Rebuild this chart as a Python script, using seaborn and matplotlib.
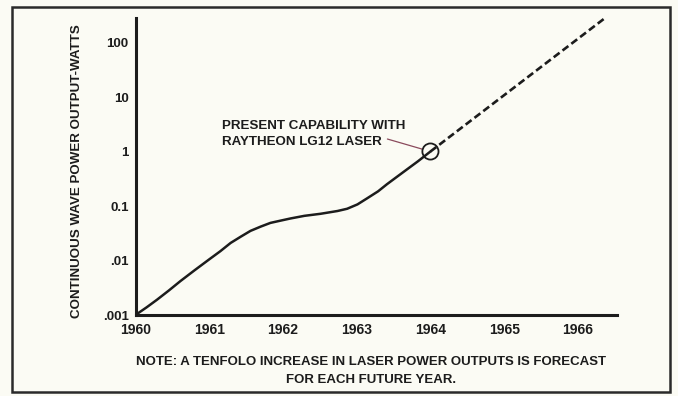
import matplotlib
matplotlib.use("Agg")
import matplotlib.pyplot as plt
from matplotlib.patches import Rectangle
import pandas as pd
import seaborn as sns

# Measured continuous-wave output (watts) by year
years_measured = [1960.00, 1960.15, 1960.29, 1960.45, 1960.61, 1960.80, 1961.00,
                  1961.15, 1961.29, 1961.43, 1961.56, 1961.70, 1961.83, 1961.97,
                  1962.10, 1962.29, 1962.51, 1962.74, 1962.87, 1963.01, 1963.14,
                  1963.29, 1963.41, 1963.56, 1963.69, 1963.83, 1964.00]
power_measured = [0.001, 0.00138, 0.0019, 0.0028, 0.0042, 0.0066, 0.0105,
                  0.0148, 0.021, 0.0275, 0.035, 0.042, 0.049, 0.054,
                  0.059, 0.066, 0.072, 0.081, 0.089, 0.107, 0.138,
                  0.186, 0.251, 0.355, 0.479, 0.661, 1.0]

# Forecast: tenfold increase per year from the present capability
years_forecast = [1964.00, 1966.35]
power_forecast = [1.0, 270.0]

# Present capability point (Raytheon LG12)
capability_year = [1964.0]
capability_power = [1.0]

year_ticks = [1960, 1961, 1962, 1963, 1964, 1965, 1966]
power_ticks = [0.001, 0.01, 0.1, 1, 10, 100]
power_tick_labels = [".001", ".01", "0.1", "1", "10", "100"]

BG = "#fbfbf4"
INK = "#1c1c1c"
FONT = "Liberation Sans"

sns.set_theme(style="white")
plt.rcParams["font.family"] = [FONT, "DejaVu Sans"]
plt.rcParams["font.weight"] = "bold"

W, H = 678, 396
fig = plt.figure(figsize=(W / 100, H / 100), dpi=100, facecolor=BG)

def fx(px):
    return px / W

def fy(py):
    return 1 - py / H

ax = fig.add_axes([fx(135.5), fy(315), fx(617) - fx(135.5), fy(18) - fy(315)])
ax.set_facecolor(BG)

measured = pd.DataFrame({"year": years_measured, "power": power_measured})
forecast = pd.DataFrame({"year": years_forecast, "power": power_forecast})
point = pd.DataFrame({"year": capability_year, "power": capability_power})

sns.lineplot(data=measured, x="year", y="power", ax=ax, color=INK,
             linewidth=1.8, sort=False, estimator=None,
             solid_joinstyle="round", solid_capstyle="round")
sns.lineplot(data=forecast, x="year", y="power", ax=ax, color=INK,
             linewidth=1.9, sort=False, estimator=None,
             linestyle=(0, (2.8, 1.4)), dash_capstyle="butt")
sns.scatterplot(data=point, x="year", y="power", ax=ax, s=135,
                facecolor="none", edgecolor=INK, linewidth=1.3, zorder=5)

ax.set_yscale("log")
ax.set_xlim(1960, 1966.53)
ax.set_ylim(0.001, 10 ** 2.45)

ax.set_xticks(year_ticks)
ax.set_xticklabels([str(y) for y in year_ticks])
ax.set_yticks(power_ticks)
ax.set_yticklabels(power_tick_labels)
ax.minorticks_off()
ax.set_xlabel("")
ax.set_ylabel("")

for side in ("top", "right"):
    ax.spines[side].set_visible(False)
for side in ("left", "bottom"):
    ax.spines[side].set_linewidth(2.2)
    ax.spines[side].set_color(INK)

ax.tick_params(axis="y", direction="inout", length=8, width=1.4, color=INK,
               pad=1, labelsize=9.5, labelcolor=INK)
ax.tick_params(axis="x", direction="inout", length=5, width=1.4, color=INK,
               pad=3, labelsize=10, labelcolor=INK)
for lbl in ax.get_xticklabels() + ax.get_yticklabels():
    lbl.set_fontweight("bold")

# Callout for the present capability
ax.annotate("", xy=(capability_year[0], capability_power[0]),
            xytext=(-31, 9), textcoords="offset points",
            arrowprops=dict(arrowstyle="-", color="#8a4a5c", lw=0.9,
                            shrinkA=0, shrinkB=6.5))
fig.text(fx(222), fy(126), "PRESENT CAPABILITY WITH", ha="left", va="center",
         fontsize=9.6, fontweight="bold", color=INK)
fig.text(fx(222), fy(142), "RAYTHEON LG12 LASER", ha="left", va="center",
         fontsize=9.6, fontweight="bold", color=INK)

# Axis title
fig.text(fx(77), fy(171), "CONTINUOUS WAVE POWER OUTPUT-WATTS", rotation=90,
         ha="center", va="center", fontsize=9.6, fontweight="bold", color=INK)

# Footnote
fig.text(fx(371), fy(362), "NOTE: A TENFOLO INCREASE IN LASER POWER OUTPUTS IS FORECAST",
         ha="center", va="center", fontsize=9.5, fontweight="bold", color=INK)
fig.text(fx(371), fy(380), "FOR EACH FUTURE YEAR.",
         ha="center", va="center", fontsize=9.5, fontweight="bold", color=INK)

# Frame around the figure
fig.patches.append(Rectangle((fx(12), fy(392)), fx(670) - fx(12), fy(7) - fy(392),
                             transform=fig.transFigure, fill=False,
                             edgecolor="#2a2a2a", linewidth=1.8))

fig.savefig("out.png", dpi=100, facecolor=BG)
